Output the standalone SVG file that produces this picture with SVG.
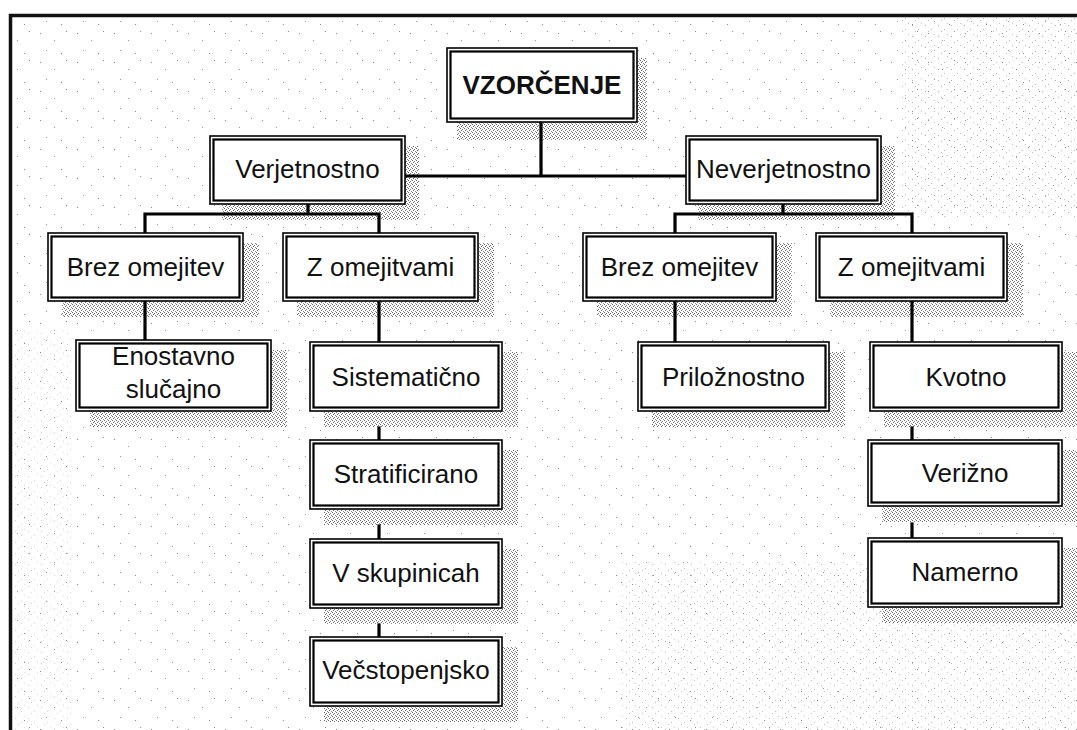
<svg xmlns="http://www.w3.org/2000/svg" width="1077" height="730" viewBox="0 0 1077 730">
<defs>
<style>
.outer{fill:#fff;stroke:#000;stroke-width:1.6}
.inner{fill:none;stroke:#000;stroke-width:2.2}
.shadow{fill:url(#halftone)}
.lbl{font-family:"Liberation Sans",Arial,Helvetica,sans-serif;font-size:26px;fill:#111;text-anchor:middle}
.bold{font-weight:bold}
.conn{fill:none;stroke:#000;stroke-width:3.2;stroke-linecap:square}
.frame{fill:none;stroke:#111;stroke-width:3.5}
</style>
<pattern id="halftone" width="4" height="4" patternUnits="userSpaceOnUse">
<rect width="4" height="4" fill="#fff"/>
<rect x="0" y="0" width="1" height="1" fill="#666"/>
<rect x="2" y="1" width="1" height="1" fill="#777"/>
<rect x="1" y="2" width="1" height="1" fill="#666"/>
<rect x="3" y="3" width="1" height="1" fill="#888"/>
</pattern>
<pattern id="speckle" width="37" height="29" patternUnits="userSpaceOnUse">
<rect x="3" y="4" width="1" height="1" fill="#888"/>
<rect x="17" y="11" width="1" height="1" fill="#999"/>
<rect x="29" y="2" width="1" height="1" fill="#888"/>
<rect x="9" y="21" width="1" height="1" fill="#999"/>
<rect x="24" y="24" width="1" height="1" fill="#888"/>
</pattern>
<pattern id="speckle2" width="13" height="11" patternUnits="userSpaceOnUse">
<rect x="2" y="3" width="1" height="1" fill="#888"/>
<rect x="8" y="7" width="1" height="1" fill="#999"/>
<rect x="11" y="1" width="1" height="1" fill="#aaa"/>
<rect x="5" y="9" width="1" height="1" fill="#999"/>
</pattern>
</defs>

<rect width="1077" height="730" fill="#fff"/>
<rect x="12" y="17" width="1065" height="713" fill="url(#speckle)"/>
<rect x="900" y="17" width="177" height="200" fill="url(#speckle2)" opacity="0.7"/>
<rect x="620" y="560" width="457" height="170" fill="url(#speckle2)" opacity="0.6"/>
<rect x="12" y="330" width="60" height="400" fill="url(#speckle2)" opacity="0.4"/>

<g id="frame">
<line class="frame" x1="9" y1="15.5" x2="1077" y2="15.5"/>
<line class="frame" x1="10.5" y1="14" x2="10.5" y2="730"/>
</g>

<g id="shadows">
<rect class="shadow" x="457" y="58" width="190" height="82"/>
<rect class="shadow" x="222" y="146" width="197" height="74"/>
<rect class="shadow" x="698" y="146" width="197" height="74"/>
<rect class="shadow" x="62" y="243" width="197" height="74"/>
<rect class="shadow" x="297" y="243" width="197" height="74"/>
<rect class="shadow" x="597" y="243" width="195" height="74"/>
<rect class="shadow" x="830" y="243" width="193" height="74"/>
<rect class="shadow" x="90" y="350" width="197" height="77"/>
<rect class="shadow" x="324" y="352" width="194" height="75"/>
<rect class="shadow" x="652" y="352" width="193" height="75"/>
<rect class="shadow" x="884" y="352" width="193" height="75"/>
<rect class="shadow" x="324" y="450" width="194" height="75"/>
<rect class="shadow" x="324" y="549" width="194" height="75"/>
<rect class="shadow" x="324" y="647" width="194" height="75"/>
<rect class="shadow" x="882" y="450" width="195" height="72"/>
<rect class="shadow" x="882" y="548" width="195" height="75"/>
</g>

<g id="connectors">
<path class="conn" d="M541 122 V176 M405 176 H686"/>
<path class="conn" d="M308 204 V214 M145 214 H379 M145 214 V233 M379 214 V233"/>
<path class="conn" d="M783 204 V214 M675 214 H912 M675 214 V233 M912 214 V233"/>
<path class="conn" d="M145 301 V340"/>
<path class="conn" d="M379 301 V342"/>
<path class="conn" d="M379 428 V440"/>
<path class="conn" d="M379 526 V539"/>
<path class="conn" d="M379 625 V637"/>
<path class="conn" d="M675 301 V342"/>
<path class="conn" d="M912 301 V342"/>
<path class="conn" d="M912 428 V440"/>
<path class="conn" d="M912 524 V538"/>
</g>

<g id="n-vzorcenje">
<rect class="outer" x="447" y="48" width="190" height="74"/>
<rect class="inner" x="450.5" y="51.5" width="183" height="67"/>
<text class="lbl bold" x="542" y="94">VZORČENJE</text>
</g>
<g id="n-verjetnostno">
<rect class="outer" x="210" y="136" width="195" height="68"/>
<rect class="inner" x="213.5" y="139.5" width="188" height="61"/>
<text class="lbl" x="307.5" y="178">Verjetnostno</text>
</g>
<g id="n-neverjetnostno">
<rect class="outer" x="686" y="136" width="195" height="68"/>
<rect class="inner" x="689.5" y="139.5" width="188" height="61"/>
<text class="lbl" x="783.5" y="178">Neverjetnostno</text>
</g>
<g id="n-brez-l">
<rect class="outer" x="48" y="233" width="195" height="68"/>
<rect class="inner" x="51.5" y="236.5" width="188" height="61"/>
<text class="lbl" x="145.5" y="276">Brez omejitev</text>
</g>
<g id="n-z-l">
<rect class="outer" x="283" y="233" width="195" height="68"/>
<rect class="inner" x="286.5" y="236.5" width="188" height="61"/>
<text class="lbl" x="380.5" y="276">Z omejitvami</text>
</g>
<g id="n-brez-r">
<rect class="outer" x="583" y="233" width="193" height="68"/>
<rect class="inner" x="586.5" y="236.5" width="186" height="61"/>
<text class="lbl" x="679.5" y="276">Brez omejitev</text>
</g>
<g id="n-z-r">
<rect class="outer" x="816" y="233" width="191" height="68"/>
<rect class="inner" x="819.5" y="236.5" width="184" height="61"/>
<text class="lbl" x="911.5" y="276">Z omejitvami</text>
</g>
<g id="n-enostavno">
<rect class="outer" x="76" y="340" width="195" height="71"/>
<rect class="inner" x="79.5" y="343.5" width="188" height="64"/>
<text class="lbl" x="173.5" y="365">Enostavno</text>
<text class="lbl" x="173.5" y="398">slučajno</text>
</g>
<g id="n-sistematicno">
<rect class="outer" x="310" y="342" width="192" height="69"/>
<rect class="inner" x="313.5" y="345.5" width="185" height="62"/>
<text class="lbl" x="406" y="386">Sistematično</text>
</g>
<g id="n-stratificirano">
<rect class="outer" x="310" y="440" width="192" height="69"/>
<rect class="inner" x="313.5" y="443.5" width="185" height="62"/>
<text class="lbl" x="406" y="483">Stratificirano</text>
</g>
<g id="n-vskupinicah">
<rect class="outer" x="310" y="539" width="192" height="69"/>
<rect class="inner" x="313.5" y="542.5" width="185" height="62"/>
<text class="lbl" x="406" y="582">V skupinicah</text>
</g>
<g id="n-vecstopenjsko">
<rect class="outer" x="310" y="637" width="192" height="69"/>
<rect class="inner" x="313.5" y="640.5" width="185" height="62"/>
<text class="lbl" x="406" y="679">Večstopenjsko</text>
</g>
<g id="n-priloznostno">
<rect class="outer" x="638" y="342" width="191" height="69"/>
<rect class="inner" x="641.5" y="345.5" width="184" height="62"/>
<text class="lbl" x="733.5" y="386">Priložnostno</text>
</g>
<g id="n-kvotno">
<rect class="outer" x="870" y="342" width="192" height="69"/>
<rect class="inner" x="873.5" y="345.5" width="185" height="62"/>
<text class="lbl" x="966" y="386">Kvotno</text>
</g>
<g id="n-verizno">
<rect class="outer" x="868" y="440" width="194" height="66"/>
<rect class="inner" x="871.5" y="443.5" width="187" height="59"/>
<text class="lbl" x="965" y="482">Verižno</text>
</g>
<g id="n-namerno">
<rect class="outer" x="868" y="538" width="194" height="69"/>
<rect class="inner" x="871.5" y="541.5" width="187" height="62"/>
<text class="lbl" x="965" y="581">Namerno</text>
</g>
</svg>
